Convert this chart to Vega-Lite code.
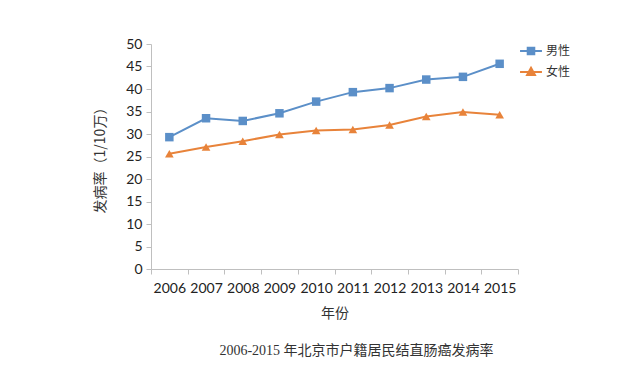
{
  "$schema": "https://vega.github.io/schema/vega-lite/v6.json",
  "autosize": "none",
  "width": 367,
  "height": 225,
  "padding": {"left": 151, "top": 44, "right": 124, "bottom": 101},
  "background": "white",
  "data": {
    "values": [
      {"year": "2006", "series": "男性", "rate": 29.3},
      {"year": "2007", "series": "男性", "rate": 33.5},
      {"year": "2008", "series": "男性", "rate": 32.9},
      {"year": "2009", "series": "男性", "rate": 34.6},
      {"year": "2010", "series": "男性", "rate": 37.2},
      {"year": "2011", "series": "男性", "rate": 39.3},
      {"year": "2012", "series": "男性", "rate": 40.2},
      {"year": "2013", "series": "男性", "rate": 42.1},
      {"year": "2014", "series": "男性", "rate": 42.7},
      {"year": "2015", "series": "男性", "rate": 45.6},
      {"year": "2006", "series": "女性", "rate": 25.6},
      {"year": "2007", "series": "女性", "rate": 27.1},
      {"year": "2008", "series": "女性", "rate": 28.4},
      {"year": "2009", "series": "女性", "rate": 29.9},
      {"year": "2010", "series": "女性", "rate": 30.8},
      {"year": "2011", "series": "女性", "rate": 31.0},
      {"year": "2012", "series": "女性", "rate": 32.0},
      {"year": "2013", "series": "女性", "rate": 33.9},
      {"year": "2014", "series": "女性", "rate": 34.9},
      {"year": "2015", "series": "女性", "rate": 34.3}
    ]
  },
  "title": {
    "text": "2006-2015 年北京市户籍居民结直肠癌发病率",
    "orient": "bottom",
    "anchor": "middle",
    "dx": 22,
    "offset": 24,
    "font": "Liberation Serif, Noto Sans CJK SC",
    "fontSize": 14,
    "fontWeight": "normal",
    "color": "#333333"
  },
  "config": {
    "view": {"stroke": null},
    "axis": {"grid": false, "domainColor": "#bfbfbf", "tickColor": "#bfbfbf", "labelColor": "#222222", "titleColor": "#333333", "labelFont": "Lato", "titleFont": "Noto Sans CJK SC", "titleFontWeight": "normal"}
  },
  "encoding": {
    "x": {
      "field": "year",
      "type": "ordinal",
      "scale": {"type": "band", "paddingInner": 0, "paddingOuter": 0},
      "axis": {"title": "年份", "labelAngle": 0, "tickBand": "extent", "tickSize": 5, "labelFontSize": 14, "labelPadding": 7, "titleFontSize": 14, "titlePadding": 11}
    },
    "y": {
      "field": "rate",
      "type": "quantitative",
      "scale": {"domain": [0, 50]},
      "axis": {"title": "发病率（1/10万）", "values": [0,5,10,15,20,25,30,35,40,45,50], "tickSize": 5, "labelFontSize": 14, "labelPadding": 4, "titleFontSize": 14, "titlePadding": 18}
    },
    "color": {
      "field": "series",
      "type": "nominal",
      "scale": {"domain": ["男性", "女性"], "range": ["#5B8FC8", "#E8833A"]},
      "legend": {
        "title": null,
        "orient": "none",
        "legendX": 368,
        "legendY": -5,
        "symbolSize": 480,
        "symbolStrokeWidth": 2,
        "rowPadding": 1,
        "labelFontSize": 12,
        "labelColor": "#333333",
        "labelFont": "Noto Sans CJK SC",
        "labelOffset": 3,
        "encode": {
          "symbols": {
            "update": {
              "shape": {"signal": "datum.value === '男性' ? 'M-1,0H1M-0.3,-0.3H0.3V0.3H-0.3Z' : 'M-1,0H1M0,-0.38L0.36,0.28H-0.36Z'"},
              "fill": {"signal": "datum.value === '男性' ? '#5B8FC8' : '#E8833A'"},
              "fillOpacity": {"value": 1},
              "strokeWidth": {"value": 2}
            }
          }
        }
      }
    }
  },
  "layer": [
    {"mark": {"type": "line", "strokeWidth": 2}},
    {
      "transform": [{"filter": "datum.series === '男性'"}],
      "mark": {"type": "point", "shape": "square", "filled": true, "opacity": 1, "size": 72}
    },
    {
      "transform": [{"filter": "datum.series === '女性'"}],
      "mark": {"type": "point", "shape": "triangle-up", "filled": true, "opacity": 1, "size": 75}
    }
  ]
}
